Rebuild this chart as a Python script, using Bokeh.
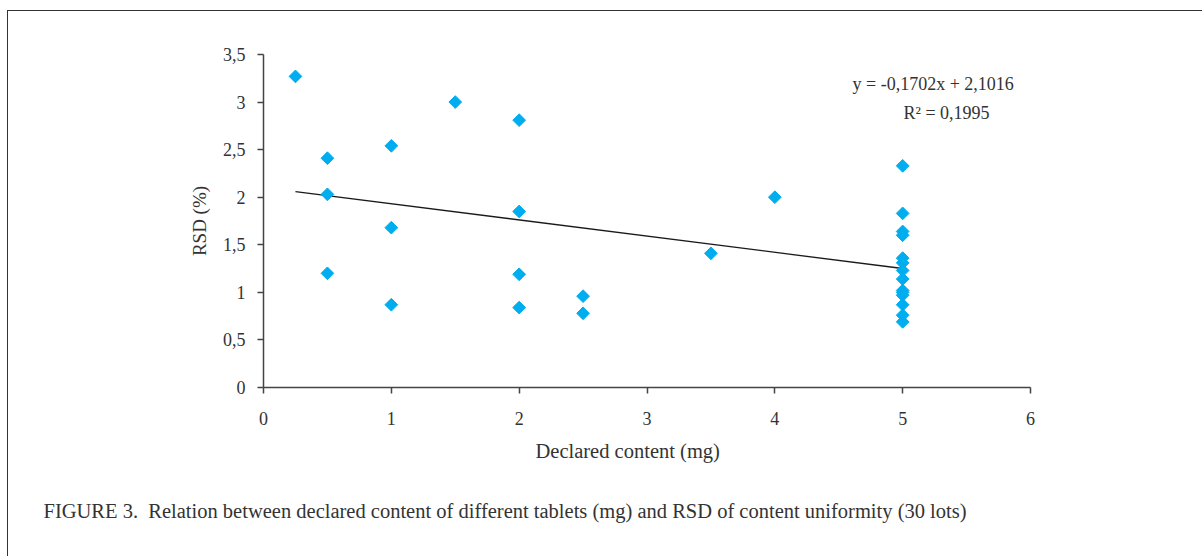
import math
from bokeh.plotting import figure
from bokeh.models import ColumnDataSource, Label, FixedTicker, Range1d, Title
from bokeh.embed import file_html
from bokeh.resources import INLINE

# Data: declared content (mg) vs RSD (%) for 30 lots
declared_mg = [0.25, 0.5, 0.5, 0.5, 1, 1, 1, 1.5, 2, 2, 2, 2, 2.5, 2.5, 3.5, 4,
               5, 5, 5, 5, 5, 5, 5, 5, 5, 5, 5, 5, 5, 5]
rsd_pct = [3.27, 2.41, 2.03, 1.20, 2.54, 1.68, 0.87, 3.00, 2.81, 1.85, 1.19, 0.84, 0.96, 0.78, 1.41, 2.00,
           2.33, 1.83, 1.64, 1.60, 1.36, 1.31, 1.23, 1.14, 1.02, 1.00, 0.97, 0.87, 0.76, 0.69]

slope = -0.1702
intercept = 2.1016
r_squared = 0.1995

x_ticks = [0, 1, 2, 3, 4, 5, 6]
y_ticks = [0, 0.5, 1, 1.5, 2, 2.5, 3, 3.5]
y_tick_labels = ["0", "0,5", "1", "1,5", "2", "2,5", "3", "3,5"]

x_label = "Declared content (mg)"
y_label = "RSD (%)"
caption = "FIGURE 3.\u00a0 Relation between declared content of different tablets (mg) and RSD of content uniformity (30 lots)"

FONT = "Liberation Serif"
TXT = "#333333"

p = figure(width=1195, height=546, output_backend="svg", toolbar_location=None,
           x_range=Range1d(0, 6), y_range=Range1d(0, 3.5),
           min_border_left=255, min_border_right=173, min_border_top=43, min_border_bottom=170,
           styles={"margin-left": "7px", "margin-top": "10px",
                   "border-left": "1px solid #333333", "border-top": "1px solid #333333"})
p.outline_line_color = None
p.grid.visible = False
p.background_fill_color = "white"
p.border_fill_color = "white"

# regression line over the data's x extent
xs = [min(declared_mg), max(declared_mg)]
ys = [slope * x + intercept for x in xs]
p.line(xs, ys, line_color="#1a1a1a", line_width=1.3)

src = ColumnDataSource(dict(x=declared_mg, y=rsd_pct))
p.scatter("x", "y", source=src, marker="square", angle=math.pi / 4, size=9,
          fill_color="#00AEEF", line_color="#00AEEF")

for ax in (p.xaxis[0], p.yaxis[0]):
    ax.axis_line_color = "#444444"
    ax.axis_line_width = 1.5
    ax.major_tick_line_color = "#444444"
    ax.major_tick_line_width = 1.5
    ax.major_tick_in = 0
    ax.major_tick_out = 6
    ax.minor_tick_line_color = None
    ax.major_label_text_font = FONT
    ax.major_label_text_font_size = "18px"
    ax.major_label_text_color = TXT
    ax.axis_label_text_font = FONT
    ax.axis_label_text_font_size = "19px"
    ax.axis_label_text_font_style = "normal"
    ax.axis_label_text_color = TXT

p.xaxis[0].ticker = FixedTicker(ticks=x_ticks)
p.yaxis[0].ticker = FixedTicker(ticks=y_ticks)
p.yaxis[0].major_label_overrides = {t: l for t, l in zip(y_ticks, y_tick_labels)}
p.xaxis[0].major_label_standoff = 18
p.yaxis[0].major_label_standoff = 12
p.yaxis[0].axis_label = y_label
p.yaxis[0].axis_label_standoff = 10

p.add_layout(Label(x=852 - 263, y=387 - 83, x_units="screen", y_units="screen",
                   text="y = " + f"{slope:.4f}".replace(".", ",") + "x + " + f"{intercept:.4f}".replace(".", ","),
                   text_font=FONT, text_font_size="18px", text_color=TXT,
                   text_baseline="middle"))
p.add_layout(Label(x=903 - 263, y=387 - 112, x_units="screen", y_units="screen",
                   text="R² = " + f"{r_squared:.4f}".replace(".", ","),
                   text_font=FONT, text_font_size="18px", text_color=TXT,
                   text_baseline="middle"))

p.add_layout(Title(text=x_label, align="left", offset=272, standoff=20,
                   text_font=FONT, text_font_size="20.5px", text_font_style="normal",
                   text_color=TXT), "below")
p.add_layout(Title(text=caption, align="left", offset=-220, standoff=52,
                   text_font=FONT, text_font_size="20.5px", text_font_style="normal",
                   text_color=TXT), "below")

open("out.html", "w").write(file_html(p, INLINE))
